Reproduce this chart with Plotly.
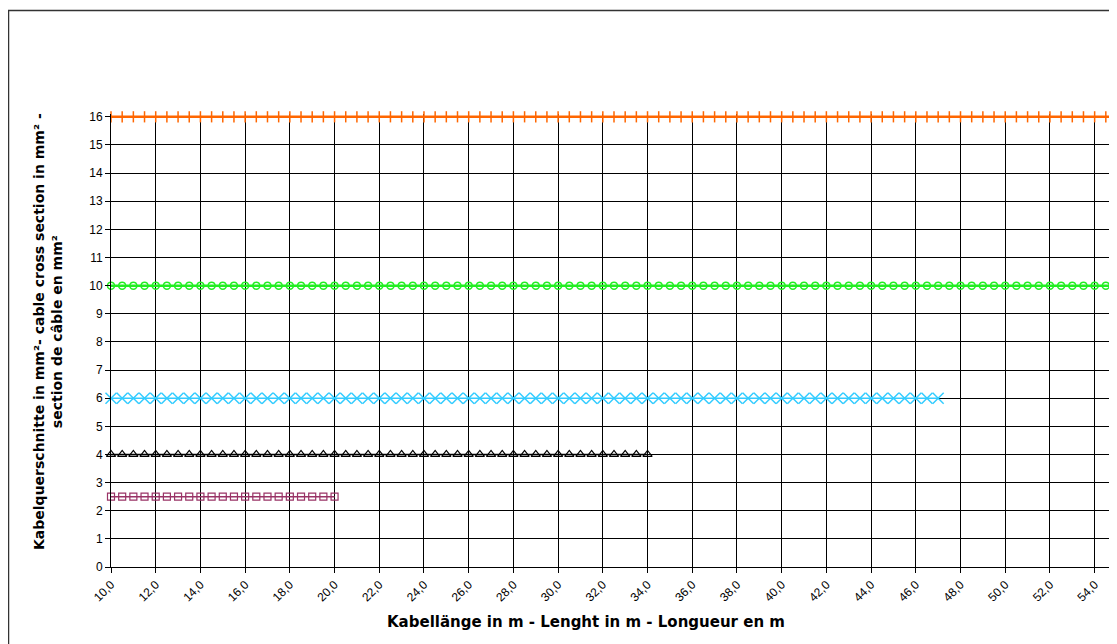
import plotly.graph_objects as go

# Cable length categories (m)
lengths = [10.0, 10.5, 11.0, 11.5, 12.0, 12.5, 13.0, 13.5, 14.0, 14.5, 15.0, 15.5,
           16.0, 16.5, 17.0, 17.5, 18.0, 18.5, 19.0, 19.5, 20.0, 20.5, 21.0, 21.5,
           22.0, 22.5, 23.0, 23.5, 24.0, 24.5, 25.0, 25.5, 26.0, 26.5, 27.0, 27.5,
           28.0, 28.5, 29.0, 29.5, 30.0, 30.5, 31.0, 31.5, 32.0, 32.5, 33.0, 33.5,
           34.0, 34.5, 35.0, 35.5, 36.0, 36.5, 37.0, 37.5, 38.0, 38.5, 39.0, 39.5,
           40.0, 40.5, 41.0, 41.5, 42.0, 42.5, 43.0, 43.5, 44.0, 44.5, 45.0, 45.5,
           46.0, 46.5, 47.0, 47.5, 48.0, 48.5, 49.0, 49.5, 50.0, 50.5, 51.0, 51.5,
           52.0, 52.5, 53.0, 53.5, 54.0, 54.5, 55.0]

# Cross sections (mm²) per length, one list per series
sec_2_5 = [2.5, 2.5, 2.5, 2.5, 2.5, 2.5, 2.5, 2.5, 2.5, 2.5, 2.5, 2.5, 2.5, 2.5,
           2.5, 2.5, 2.5, 2.5, 2.5, 2.5, 2.5]
sec_4 = [4, 4, 4, 4, 4, 4, 4, 4, 4, 4, 4, 4, 4, 4, 4, 4, 4, 4, 4, 4, 4, 4, 4, 4,
         4, 4, 4, 4, 4, 4, 4, 4, 4, 4, 4, 4, 4, 4, 4, 4, 4, 4, 4, 4, 4, 4, 4, 4, 4]
sec_6 = [6, 6, 6, 6, 6, 6, 6, 6, 6, 6, 6, 6, 6, 6, 6, 6, 6, 6, 6, 6, 6, 6, 6, 6,
         6, 6, 6, 6, 6, 6, 6, 6, 6, 6, 6, 6, 6, 6, 6, 6, 6, 6, 6, 6, 6, 6, 6, 6,
         6, 6, 6, 6, 6, 6, 6, 6, 6, 6, 6, 6, 6, 6, 6, 6, 6, 6, 6, 6, 6, 6, 6, 6,
         6, 6, 6]
sec_10 = [10, 10, 10, 10, 10, 10, 10, 10, 10, 10, 10, 10, 10, 10, 10, 10, 10, 10,
          10, 10, 10, 10, 10, 10, 10, 10, 10, 10, 10, 10, 10, 10, 10, 10, 10, 10,
          10, 10, 10, 10, 10, 10, 10, 10, 10, 10, 10, 10, 10, 10, 10, 10, 10, 10,
          10, 10, 10, 10, 10, 10, 10, 10, 10, 10, 10, 10, 10, 10, 10, 10, 10, 10,
          10, 10, 10, 10, 10, 10, 10, 10, 10, 10, 10, 10, 10, 10, 10, 10, 10, 10, 10]
sec_16 = [16, 16, 16, 16, 16, 16, 16, 16, 16, 16, 16, 16, 16, 16, 16, 16, 16, 16,
          16, 16, 16, 16, 16, 16, 16, 16, 16, 16, 16, 16, 16, 16, 16, 16, 16, 16,
          16, 16, 16, 16, 16, 16, 16, 16, 16, 16, 16, 16, 16, 16, 16, 16, 16, 16,
          16, 16, 16, 16, 16, 16, 16, 16, 16, 16, 16, 16, 16, 16, 16, 16, 16, 16,
          16, 16, 16, 16, 16, 16, 16, 16, 16, 16, 16, 16, 16, 16, 16, 16, 16, 16, 16]

x_tick_vals = [10, 12, 14, 16, 18, 20, 22, 24, 26, 28, 30, 32, 34, 36, 38, 40,
               42, 44, 46, 48, 50, 52, 54]
x_tick_text = ["10,0", "12,0", "14,0", "16,0", "18,0", "20,0", "22,0", "24,0",
               "26,0", "28,0", "30,0", "32,0", "34,0", "36,0", "38,0", "40,0",
               "42,0", "44,0", "46,0", "48,0", "50,0", "52,0", "54,0"]
y_tick_vals = [0, 1, 2, 3, 4, 5, 6, 7, 8, 9, 10, 11, 12, 13, 14, 15, 16]

FONT = "Liberation Sans, Arial, sans-serif"
TITLE_FONT = "DejaVu Sans, Liberation Sans, sans-serif"

fig = go.Figure()

fig.add_trace(go.Scatter(
    x=lengths[:len(sec_16)], y=sec_16, mode="lines+markers",
    line=dict(color="#FF6600", width=2.5),
    marker=dict(symbol="line-ns", size=8, line=dict(color="#FF6600", width=1.5)),
    cliponaxis=False, name="16"))
fig.add_trace(go.Scatter(
    x=lengths[:len(sec_10)], y=sec_10, mode="lines+markers",
    line=dict(color="#22EE22", width=2.5),
    marker=dict(symbol="circle-open", size=7, line=dict(color="#22EE22", width=1.5)),
    cliponaxis=False, name="10"))
fig.add_trace(go.Scatter(
    x=lengths[:len(sec_6)], y=sec_6, mode="lines+markers",
    line=dict(color="#33CCFF", width=1.5),
    marker=dict(symbol="x-thin-open", size=11, line=dict(color="#33CCFF", width=1.5)),
    cliponaxis=False, name="6"))
fig.add_trace(go.Scatter(
    x=lengths[:len(sec_4)], y=sec_4, mode="lines+markers",
    line=dict(color="#000000", width=1.5),
    marker=dict(symbol="triangle-up-open", size=8, line=dict(color="#000000", width=1.2)),
    cliponaxis=False, name="4"))
fig.add_trace(go.Scatter(
    x=lengths[:len(sec_2_5)], y=sec_2_5, mode="lines+markers",
    line=dict(color="#993366", width=1.5),
    marker=dict(symbol="square-open", size=7, line=dict(color="#993366", width=1.2)),
    cliponaxis=False, name="2,5"))

# page body adds an 8px offset; figure coordinates below are screen - 8
W, H = 1109, 636
L, R, T, B = 103, 0, 106, 77
pw = W - L - R
ph = H - T - B

def px_x(p):
    return (p - L) / pw

def px_y(p):
    return (H - B - p) / ph

fig.update_layout(
    width=W, height=H,
    margin=dict(l=L, r=R, t=T, b=B, pad=0),
    paper_bgcolor="white", plot_bgcolor="white",
    showlegend=False,
    font=dict(family=FONT, size=11, color="#000000"),
    xaxis=dict(
        range=[10, 55], tickmode="array", tickvals=x_tick_vals, ticktext=x_tick_text,
        tickangle=-45, showgrid=True, gridcolor="#000000", gridwidth=1,
        showline=True, linecolor="#000000", linewidth=1,
        ticks="outside", ticklen=5, tickcolor="#000000",
        tickfont=dict(family=FONT, size=12), zeroline=False,
    ),
    yaxis=dict(
        range=[0, 16.1], tickmode="array", tickvals=y_tick_vals,
        showgrid=True, gridcolor="#000000", gridwidth=1,
        showline=True, linecolor="#000000", linewidth=1,
        ticks="outside", ticklen=5, tickcolor="#000000",
        tickfont=dict(family=FONT, size=12), zeroline=False,
    ),
    shapes=[dict(type="rect", xref="paper", yref="paper",
                 x0=px_x(0.5), x1=px_x(W + 20), y0=px_y(H + 20), y1=px_y(2.5),
                 line=dict(color="#333333", width=1.5), layer="below")],
    annotations=[
        dict(text="<b>Kabelquerschnitte in mm²- cable cross section in mm² -<br>section de câble en mm²</b>",
             xref="paper", yref="paper", x=px_x(40), y=px_y(324),
             xanchor="center", yanchor="middle", textangle=-90, showarrow=False,
             align="center", font=dict(family=TITLE_FONT, size=14, color="#000000")),
        dict(text="<b>Kabellänge in m - Lenght in m - Longueur en m</b>",
             xref="paper", yref="paper", x=px_x(578), y=px_y(614),
             xanchor="center", yanchor="middle", showarrow=False,
             font=dict(family=TITLE_FONT, size=15, color="#000000")),
    ],
)

fig.write_html("out.html")
